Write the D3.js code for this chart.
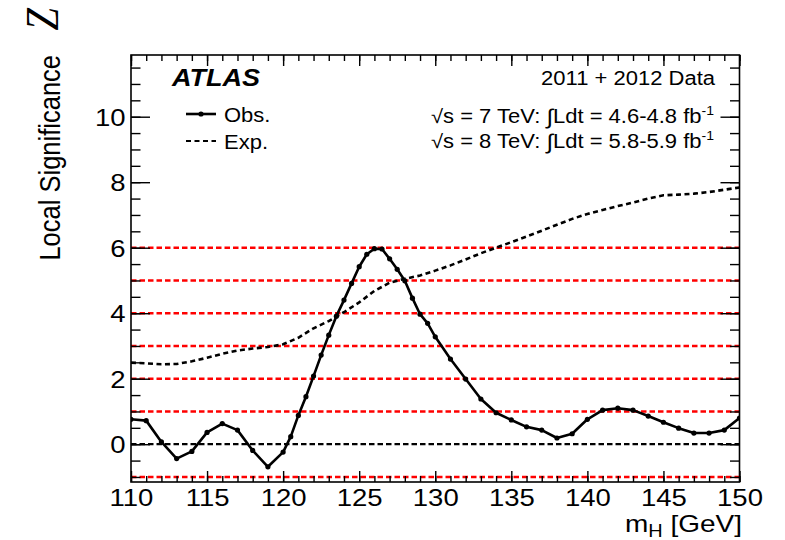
<!DOCTYPE html>
<html>
<head>
<meta charset="utf-8">
<script src="https://cdn.jsdelivr.net/npm/d3@7/dist/d3.min.js"></script>
<style>
  html, body { margin: 0; padding: 0; background: #fff; }
  svg { display: block; }
</style>
</head>
<body>
<svg id="chart" width="785" height="540"></svg>
<script>
// Observed local significance (points with markers)
const obsMass = [110, 111, 112, 113, 114, 115, 116, 117, 118, 119,
  120, 120.5, 121, 121.5, 122, 122.5, 123, 123.5, 124, 124.5,
  125, 125.5, 126, 126.5, 127, 127.5, 128, 128.5, 129, 129.5,
  130, 131, 132, 133, 134, 135, 136, 137, 138, 139,
  140, 141, 142, 143, 144, 145, 146, 147, 148, 149, 150];
const obsZ = [0.76, 0.72, 0.07, -0.44, -0.22, 0.36, 0.63, 0.43, -0.19, -0.69,
  -0.24, 0.23, 0.88, 1.45, 2.08, 2.72, 3.33, 3.91, 4.40, 4.91,
  5.42, 5.80, 5.97, 5.96, 5.66, 5.34, 4.99, 4.46, 3.97, 3.69,
  3.28, 2.60, 1.99, 1.38, 0.96, 0.74, 0.53, 0.43, 0.19, 0.32,
  0.76, 1.04, 1.10, 1.04, 0.86, 0.67, 0.49, 0.34, 0.34, 0.43, 0.80];

// Expected local significance (dashed)
const expMass = [110, 111, 112, 113, 114, 115, 116, 117, 118, 119,
  120, 121, 122, 123, 124, 125, 126, 127, 128, 129,
  130, 131, 132, 133, 134, 135, 136, 137, 138, 139,
  140, 141, 142, 143, 144, 145, 146, 147, 148, 149, 150];
const expZ = [2.49, 2.47, 2.44, 2.45, 2.53, 2.64, 2.76, 2.86, 2.92, 2.97,
  3.05, 3.25, 3.54, 3.76, 4.03, 4.33, 4.68, 4.93, 5.05, 5.15,
  5.30, 5.46, 5.64, 5.83, 6.00, 6.17, 6.34, 6.52, 6.70, 6.88,
  7.03, 7.15, 7.27, 7.38, 7.50, 7.60, 7.62, 7.65, 7.70, 7.77, 7.84];

// Reference significance levels
const redLevels = [-1, 1, 2, 3, 4, 5, 6];
const zeroLevel = [0];

// Axis ticks
const xMajorTicks = [110, 115, 120, 125, 130, 135, 140, 145, 150];
const xMinorTicks = d3.range(110, 150.01, 1);
const yMajorTicks = [0, 2, 4, 6, 8, 10];
const yMinorTicks = d3.range(-1, 11.51, 0.5);

// Texts
const xTitle = "m";
const xTitleSub = "H";
const xTitleRest = " [GeV]";
const yTitle = "Local Significance";
const yTitleVar = "Z";
const experiment = "ATLAS";
const dataLabel = "2011 + 2012 Data";
const lumiLines = [
  { pre: "\u221As = 7 TeV:  ", lumi: "Ldt = 4.6-4.8 fb" },
  { pre: "\u221As = 8 TeV:  ", lumi: "Ldt = 5.8-5.9 fb" }
];
const legendLabels = ["Obs.", "Exp."];

const W = 785, H = 540;
const pL = 131, pR = 739.5, pT = 55, pB = 482;
const SY = 0.88;                // vertical text compression
const FONT = "'Liberation Sans', Arial, Helvetica, sans-serif";

const svg = d3.select("#chart");

const x = d3.scaleLinear().domain([110, 150]).range([pL, pR]);
const y = d3.scaleLinear().domain([-1.154, 11.884]).range([pB, pT]);

function label(parent, px, py, size, anchor) {
  return parent.append("text")
    .attr("transform", `translate(${px},${py}) scale(1,${SY})`)
    .attr("font-family", FONT)
    .attr("font-size", size)
    .attr("text-anchor", anchor)
    .attr("fill", "#000");
}

// Clip for plot content
svg.append("defs").append("clipPath").attr("id", "plotClip")
  .append("rect").attr("x", pL).attr("y", pT)
  .attr("width", pR - pL).attr("height", pB - pT);

const plot = svg.append("g").attr("clip-path", "url(#plotClip)");

// Horizontal reference lines
plot.selectAll("line.red").data(redLevels).enter().append("line")
  .attr("x1", pL).attr("x2", pR)
  .attr("y1", d => y(d)).attr("y2", d => y(d))
  .attr("stroke", "#ff0000").attr("stroke-width", 2.6)
  .attr("stroke-dasharray", "5.5,3");
plot.selectAll("line.zero").data(zeroLevel).enter().append("line")
  .attr("x1", pL).attr("x2", pR)
  .attr("y1", d => y(d)).attr("y2", d => y(d))
  .attr("stroke", "#000").attr("stroke-width", 2.2)
  .attr("stroke-dasharray", "5.5,3");

// Expected curve
const expData = expMass.map((m, i) => [m, expZ[i]]);
plot.append("path").datum(expData)
  .attr("fill", "none").attr("stroke", "#000").attr("stroke-width", 2.6)
  .attr("stroke-dasharray", "5,3.5")
  .attr("d", d3.line().x(d => x(d[0])).y(d => y(d[1])));

// Observed curve
const obsData = obsMass.map((m, i) => [m, obsZ[i]]);
plot.append("path").datum(obsData)
  .attr("fill", "none").attr("stroke", "#000").attr("stroke-width", 2.6)
  .attr("stroke-linejoin", "round")
  .attr("d", d3.line().x(d => x(d[0])).y(d => y(d[1])));
plot.selectAll("circle.obs").data(obsData).enter().append("circle")
  .attr("cx", d => x(d[0])).attr("cy", d => y(d[1])).attr("r", 2.6)
  .attr("fill", "#000");

// Axes (ticks inward on all four sides)
function styleAxis(g) {
  g.select(".domain").remove();
  g.selectAll(".tick line").attr("stroke", "#000").attr("stroke-width", 1.4);
}
const xBot = svg.append("g").attr("transform", `translate(0,${pB})`)
  .call(d3.axisBottom(x).tickValues(xMajorTicks).tickSize(-11).tickFormat(d3.format("d")))
  .attr("font-family", FONT).attr("font-size", 27.5);
styleAxis(xBot);
xBot.selectAll(".tick text").attr("y", null).attr("dy", null)
  .attr("fill", "#000")
  .attr("transform", `translate(0,${506 - pB}) scale(1,${SY})`);
svg.append("g").attr("transform", `translate(0,${pB})`)
  .call(d3.axisBottom(x).tickValues(xMinorTicks).tickSize(-6).tickFormat(""))
  .call(styleAxis);
svg.append("g").attr("transform", `translate(0,${pT})`)
  .call(d3.axisTop(x).tickValues(xMajorTicks).tickSize(-11).tickFormat(""))
  .call(styleAxis);
svg.append("g").attr("transform", `translate(0,${pT})`)
  .call(d3.axisTop(x).tickValues(xMinorTicks).tickSize(-6).tickFormat(""))
  .call(styleAxis);

const yLeft = svg.append("g").attr("transform", `translate(${pL},0)`)
  .call(d3.axisLeft(y).tickValues(yMajorTicks).tickSize(-19).tickFormat(d3.format("d")))
  .attr("font-family", FONT).attr("font-size", 27.5);
styleAxis(yLeft);
yLeft.selectAll(".tick text").attr("x", null).attr("dy", null)
  .attr("fill", "#000")
  .attr("transform", `translate(-5.5,8.7) scale(1,${SY})`);
svg.append("g").attr("transform", `translate(${pL},0)`)
  .call(d3.axisLeft(y).tickValues(yMinorTicks).tickSize(-9.5).tickFormat(""))
  .call(styleAxis);
svg.append("g").attr("transform", `translate(${pR},0)`)
  .call(d3.axisRight(y).tickValues(yMajorTicks).tickSize(-19).tickFormat(""))
  .call(styleAxis);
svg.append("g").attr("transform", `translate(${pR},0)`)
  .call(d3.axisRight(y).tickValues(yMinorTicks).tickSize(-9.5).tickFormat(""))
  .call(styleAxis);

// Frame
svg.append("rect").attr("x", pL).attr("y", pT)
  .attr("width", pR - pL).attr("height", pB - pT)
  .attr("fill", "none").attr("stroke", "#000").attr("stroke-width", 1.6);

// Axis titles
const xt = label(svg, 742, 532, 28, "end");
xt.append("tspan").text(xTitle);
xt.append("tspan").attr("font-size", 20).attr("dy", 6).text(xTitleSub);
xt.append("tspan").attr("dy", -6).text(xTitleRest);

svg.append("text")
  .attr("transform", `translate(60,55) rotate(-90) scale(${SY},1)`)
  .attr("font-family", FONT).attr("font-size", 29)
  .attr("text-anchor", "end").text(yTitle);
svg.append("text")
  .attr("transform", `translate(58,8) rotate(-90) scale(${SY},1)`)
  .attr("font-family", "'Liberation Serif', 'Times New Roman', serif")
  .attr("font-style", "italic").attr("font-size", 46)
  .attr("text-anchor", "end").text(yTitleVar);

// ATLAS label and data description
label(svg, 172, 86, 27, "start")
  .attr("font-weight", "bold").attr("font-style", "italic").text(experiment);
label(svg, 715, 85, 22, "end").text(dataLabel);
lumiLines.forEach((ln, i) => {
  const t = label(svg, 714, 123 + i * 25, 22, "end");
  t.append("tspan").text(ln.pre);
  t.append("tspan").attr("font-size", 24).attr("dy", 1).text("\u222B");
  t.append("tspan").attr("dy", -1).text(ln.lumi);
  t.append("tspan").attr("font-size", 14).attr("dy", -9).text("-1");
});

// Legend
const legX0 = 186, legX1 = 216;
const legY = [114, 141];
svg.append("line").attr("x1", legX0).attr("x2", legX1)
  .attr("y1", legY[0]).attr("y2", legY[0])
  .attr("stroke", "#000").attr("stroke-width", 2.6);
svg.append("circle").attr("cx", (legX0 + legX1) / 2).attr("cy", legY[0])
  .attr("r", 2.6).attr("fill", "#000");
svg.append("line").attr("x1", legX0).attr("x2", legX1)
  .attr("y1", legY[1]).attr("y2", legY[1])
  .attr("stroke", "#000").attr("stroke-width", 2.2)
  .attr("stroke-dasharray", "5,3.5");
legendLabels.forEach((s, i) => {
  label(svg, 224, legY[i] + 7.5, 22, "start").text(s);
});
</script>
</body>
</html>
